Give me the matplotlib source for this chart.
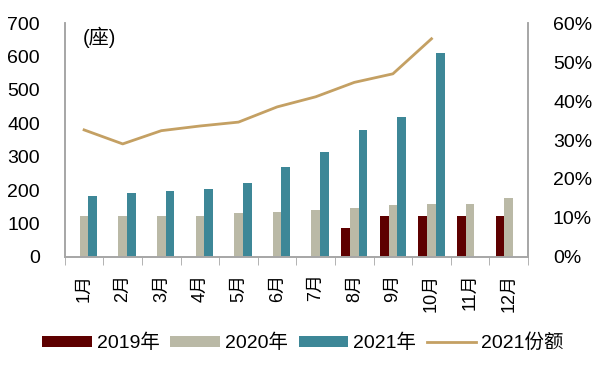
import numpy as np
import matplotlib.pyplot as plt
from matplotlib.ticker import FuncFormatter, FixedLocator

plt.rcParams['font.family'] = ['Liberation Sans', 'Noto Sans CJK SC']

months = ['1月', '2月', '3月', '4月', '5月', '6月', '7月', '8月', '9月', '10月', '11月', '12月']
# 2019 only reported from August
y2019 = [np.nan] * 7 + [85, 123, 123, 123, 123]
y2020 = [121, 121, 121, 121, 131, 135, 141, 147, 156, 159, 159, 175]
y2021 = [181, 191, 196, 203, 221, 270, 313, 379, 418, 611, np.nan, np.nan]
share2021 = [0.326, 0.290, 0.324, 0.336, 0.346, 0.385, 0.411, 0.448, 0.470, 0.560, np.nan, np.nan]

c2019 = '#5e0000'
c2020 = '#bab9a6'
c2021 = '#3d8797'
cline = '#c4a063'
grey = '#a6a6a6'

fig = plt.figure(figsize=(6, 3.68), dpi=100)
ax = fig.add_axes([0.108, 0.302, 0.772, 0.635])
ax2 = ax.twinx()

x = np.arange(len(months))
w = 0.225
ax.bar(x - w, y2019, w, color=c2019, label='2019年')
ax.bar(x, y2020, w, color=c2020, label='2020年')
ax.bar(x + w, y2021, w, color=c2021, label='2021年')
ax2.plot(x, share2021, color=cline, lw=2, label='2021份额')

ax.set_xlim(-0.5, len(months) - 0.5)
ax.set_ylim(0, 700)
ax.set_yticks(range(0, 701, 100))
ax2.set_ylim(0, 0.6)
ax2.set_yticks(np.arange(0, 0.61, 0.1))
ax2.yaxis.set_major_formatter(FuncFormatter(lambda v, p: f'{v * 100:.0f}%'))

ax.set_xticks(x)
ax.set_xticklabels(months, rotation=90, fontsize=13)
ax.xaxis.set_minor_locator(FixedLocator(np.arange(-0.5, len(months), 1)))
ax.tick_params(axis='x', which='major', length=0, pad=12)
ax.tick_params(axis='x', which='minor', length=6, color=grey, direction='out')
ax.tick_params(axis='y', length=0, pad=18, labelsize=14)
ax2.tick_params(axis='y', length=0, pad=18, labelsize=14)

for a in (ax, ax2):
    a.spines['top'].set_visible(False)
    for s in ('left', 'right', 'bottom'):
        a.spines[s].set_color(grey)
        a.spines[s].set_linewidth(1.2)

ax.text(0.038, 0.985, '(座)', transform=ax.transAxes, fontsize=14.5, va='top', ha='left')

h1, l1 = ax.get_legend_handles_labels()
h2, l2 = ax2.get_legend_handles_labels()
fig.legend(h1 + h2, l1 + l2, loc='center', bbox_to_anchor=(0.505, 0.068), ncol=4,
           frameon=False, fontsize=14, handlelength=2.55, handleheight=0.55,
           handletextpad=0.25, columnspacing=0.55)

fig.savefig('out.png', dpi=100)
